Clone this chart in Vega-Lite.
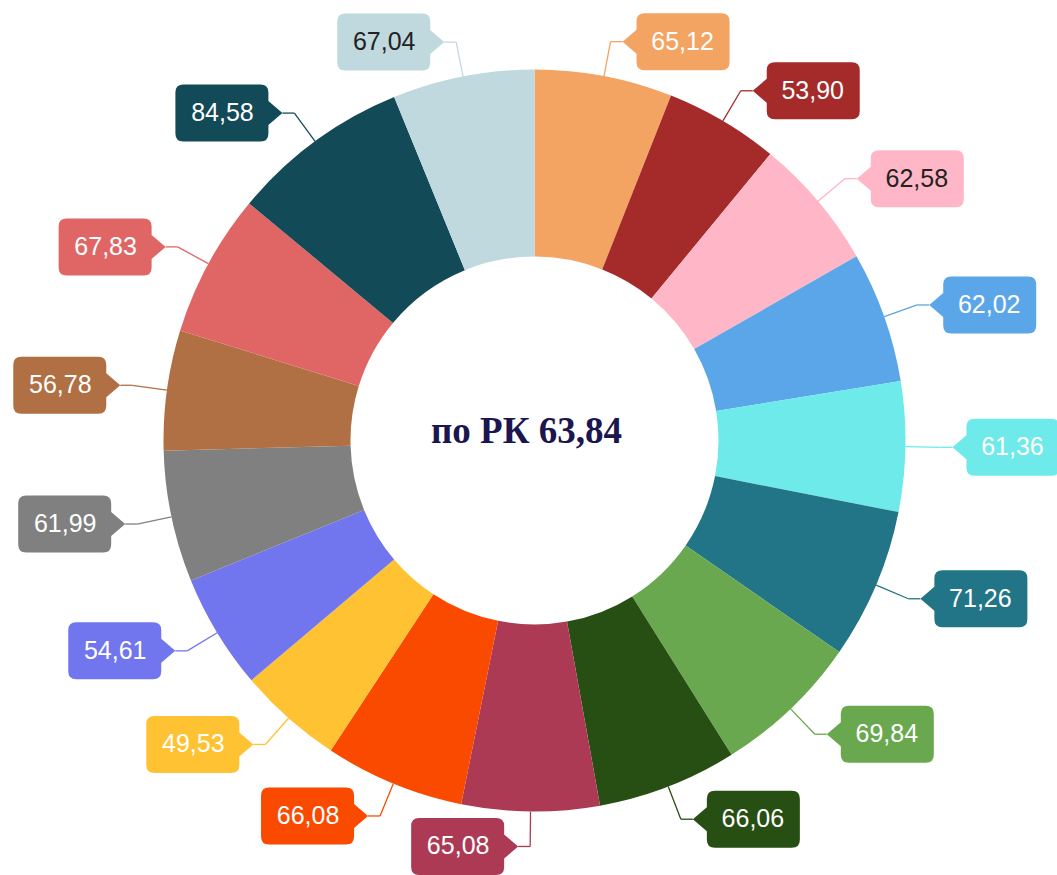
{
  "$schema": "https://vega.github.io/schema/vega-lite/v6.json",
  "width": 1045,
  "height": 869,
  "autosize": {"type": "none"},
  "padding": {"left": 12, "top": 6, "right": 0, "bottom": 0},
  "background": "white",
  "config": {"view": {"stroke": null}},
  "data": {
    "values": [
      {"id": 1, "value": 65.12},
      {"id": 2, "value": 53.90},
      {"id": 3, "value": 62.58},
      {"id": 4, "value": 62.02},
      {"id": 5, "value": 61.36},
      {"id": 6, "value": 71.26},
      {"id": 7, "value": 69.84},
      {"id": 8, "value": 66.06},
      {"id": 9, "value": 65.08},
      {"id": 10, "value": 66.08},
      {"id": 11, "value": 49.53},
      {"id": 12, "value": 54.61},
      {"id": 13, "value": 61.99},
      {"id": 14, "value": 56.78},
      {"id": 15, "value": 67.83},
      {"id": 16, "value": 84.58},
      {"id": 17, "value": 67.04}
    ]
  },
  "transform": [
    {"window": [{"op": "sum", "field": "value", "as": "cum"}], "sort": [{"field": "id"}], "frame": [null, 0]},
    {"joinaggregate": [{"op": "sum", "field": "value", "as": "total"}]},
    {"calculate": "(datum.cum - datum.value/2)/datum.total*2*PI", "as": "a"},
    {"calculate": "replace(format(datum.value, '.2f'), '.', ',')", "as": "label"},
    {"calculate": "sin(datum.a) >= 0 ? 1 : -1", "as": "side"},
    {"calculate": "371*sin(datum.a)", "as": "ox"},
    {"calculate": "371*cos(datum.a)", "as": "oy"},
    {"calculate": "406*sin(datum.a)", "as": "ex"},
    {"calculate": "406*cos(datum.a)", "as": "ey"},
    {"calculate": "datum.ex + datum.side*12", "as": "tx"},
    {"calculate": "datum.tx + datum.side*60", "as": "lx"}
  ],
  "layer": [
    {
      "mark": {"type": "arc", "outerRadius": 371, "innerRadius": 184},
      "encoding": {
        "theta": {"field": "value", "type": "quantitative", "stack": true},
        "order": {"field": "id", "type": "quantitative"},
        "color": {
          "field": "id", "type": "nominal", "legend": null,
          "scale": {
            "domain": [1,2,3,4,5,6,7,8,9,10,11,12,13,14,15,16,17],
            "range": ["#F4A462","#A52A2A","#FFB6C6","#5BA6E8","#6EEAEA","#227586","#6AA84F","#274E13","#AD3A55","#FA4A00","#FFC233","#7176EE","#808080","#B07044","#E06666","#134A57","#C0D9DE"]
          }
        }
      }
    },
    {
      "mark": {"type": "rule", "strokeWidth": 1.3},
      "encoding": {
        "x": {"field": "ox", "type": "quantitative", "axis": null, "scale": {"domain": [-522.5, 522.5], "nice": false, "zero": false}},
        "y": {"field": "oy", "type": "quantitative", "axis": null, "scale": {"domain": [-434.5, 434.5], "nice": false, "zero": false}},
        "x2": {"field": "ex"},
        "y2": {"field": "ey"},
        "color": {"field": "id", "type": "nominal", "legend": null}
      }
    },
    {
      "mark": {"type": "rule", "strokeWidth": 1.3},
      "encoding": {
        "x": {"field": "ex", "type": "quantitative", "axis": null, "scale": {"domain": [-522.5, 522.5], "nice": false, "zero": false}},
        "y": {"field": "ey", "type": "quantitative", "axis": null, "scale": {"domain": [-434.5, 434.5], "nice": false, "zero": false}},
        "x2": {"field": "tx"},
        "color": {"field": "id", "type": "nominal", "legend": null}
      }
    },
    {
      "mark": {"type": "point", "filled": true, "opacity": 1, "size": 400, "strokeWidth": 0},
      "encoding": {
        "x": {"field": "tx", "type": "quantitative", "axis": null, "scale": {"domain": [-522.5, 522.5], "nice": false, "zero": false}},
        "y": {"field": "ey", "type": "quantitative", "axis": null, "scale": {"domain": [-434.5, 434.5], "nice": false, "zero": false}},
        "shape": {
          "field": "side", "type": "nominal", "legend": null,
          "scale": {
            "domain": [-1, 1],
            "range": [
              "M0,0 L-1.4,-1.2 L-1.4,-2.05 Q-1.4,-2.85 -2.2,-2.85 L-9.9,-2.85 Q-10.7,-2.85 -10.7,-2.05 L-10.7,2.05 Q-10.7,2.85 -9.9,2.85 L-2.2,2.85 Q-1.4,2.85 -1.4,2.05 L-1.4,1.2 Z",
              "M0,0 L1.4,-1.2 L1.4,-2.05 Q1.4,-2.85 2.2,-2.85 L9.9,-2.85 Q10.7,-2.85 10.7,-2.05 L10.7,2.05 Q10.7,2.85 9.9,2.85 L2.2,2.85 Q1.4,2.85 1.4,2.05 L1.4,1.2 Z"
            ]
          }
        },
        "color": {"field": "id", "type": "nominal", "legend": null}
      }
    },
    {
      "mark": {"type": "text", "font": "Liberation Sans", "fontSize": 25, "align": "center", "baseline": "middle"},
      "encoding": {
        "x": {"field": "lx", "type": "quantitative", "axis": null, "scale": {"domain": [-522.5, 522.5], "nice": false, "zero": false}},
        "y": {"field": "ey", "type": "quantitative", "axis": null, "scale": {"domain": [-434.5, 434.5], "nice": false, "zero": false}},
        "text": {"field": "label", "type": "nominal"},
        "color": {"condition": {"test": "datum.id == 3 || datum.id == 17", "value": "#222222"}, "value": "#ffffff"}
      }
    },
    {
      "data": {"values": [{"text": "по РК 63,84"}]},
      "mark": {"type": "text", "font": "Liberation Serif", "fontWeight": "bold", "fontSize": 37, "align": "center", "baseline": "middle", "dx": -8, "dy": -9, "color": "#1B1650"},
      "encoding": {
        "x": {"datum": 0, "type": "quantitative", "axis": null, "scale": {"domain": [-522.5, 522.5], "nice": false, "zero": false}},
        "y": {"datum": 0, "type": "quantitative", "axis": null, "scale": {"domain": [-434.5, 434.5], "nice": false, "zero": false}},
        "text": {"field": "text", "type": "nominal"}
      }
    }
  ]
}
